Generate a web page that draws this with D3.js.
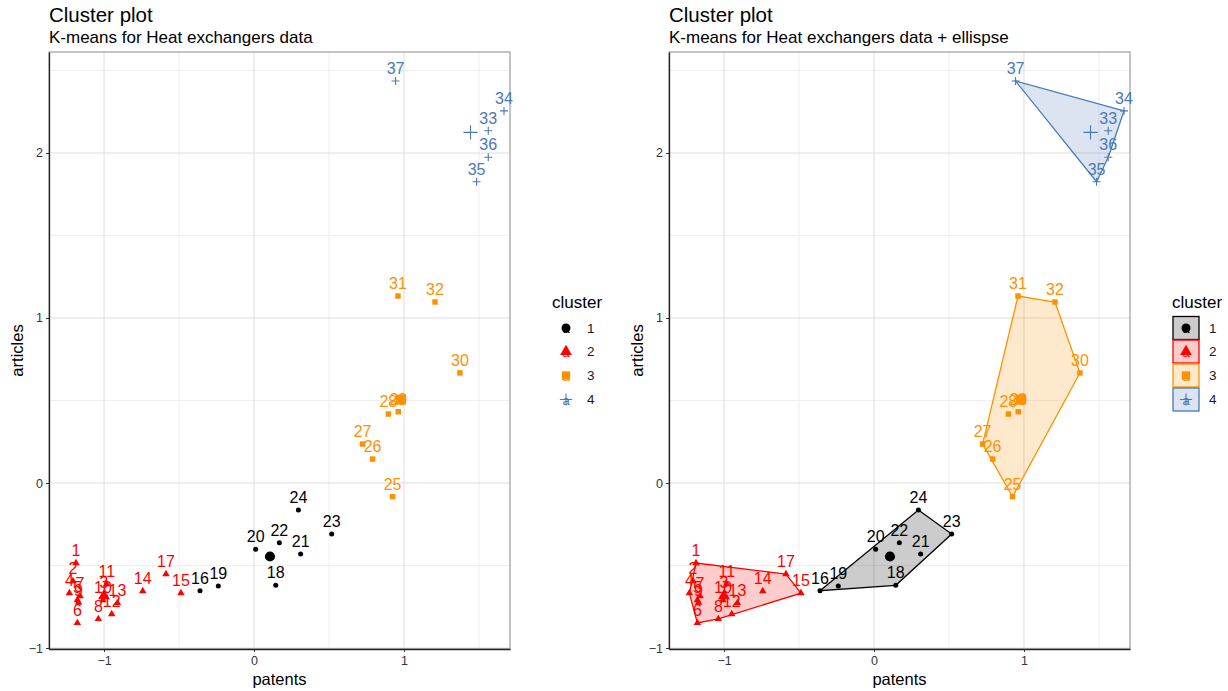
<!DOCTYPE html>
<html>
<head>
<meta charset="utf-8">
<script src="https://cdn.jsdelivr.net/npm/d3@7"></script>
<style>
  body { margin: 0; background: #fff; }
  text { font-family: "Liberation Sans", Arial, sans-serif; }
</style>
</head>
<body>
<svg id="chart" width="1228" height="691"></svg>
<script>
var ids = [1,2,3,4,5,6,7,8,9,10,11,12,13,14,15,16,17,18,19,20,21,22,23,24,25,26,27,28,29,30,31,32,33,34,35,36,37];
var patents = [-1.187,-1.207,-1.0,-1.231,-1.178,-1.178,-1.16,-1.038,-1.17,-1.007,-0.982,-0.949,-0.911,-0.742,-0.487,-0.36,-0.587,
  0.145,-0.238,0.011,0.311,0.169,0.518,0.296,0.924,0.791,0.724,0.896,0.962,1.373,0.960,1.207,1.562,1.667,1.484,1.562,0.944];
var articles = [-0.485,-0.594,-0.68,-0.667,-0.709,-0.848,-0.685,-0.824,-0.725,-0.709,-0.612,-0.794,-0.727,-0.655,-0.667,-0.653,-0.552,
  -0.620,-0.624,-0.402,-0.430,-0.362,-0.309,-0.164,-0.083,0.145,0.236,0.418,0.432,0.667,1.133,1.097,2.135,2.255,1.826,1.974,2.436];
var cluster = [2,2,2,2,2,2,2,2,2,2,2,2,2,2,2,1,2,1,1,1,1,1,1,1,3,3,3,3,3,3,3,3,4,4,4,4,4];

var clusterNames = [1, 2, 3, 4];
var clusterColors = ['#000000', '#FF0000', '#FF9100', '#4A7AB4'];
var xTicks = [-1, 0, 1];
var xMinor = [-0.5, 0.5, 1.5];
var yTicks = [-1, 0, 1, 2];
var yMinor = [-0.5, 0.5, 1.5, 2.5];

var svg = d3.select('#chart');

// "+" drawn as strokes
var plusType = {
  draw: function (ctx, size) {
    var r = Math.sqrt(size) / 2;
    ctx.moveTo(-r, 0); ctx.lineTo(r, 0);
    ctx.moveTo(0, -r); ctx.lineTo(0, r);
  }
};
var shapeTypes = [d3.symbolCircle, d3.symbolTriangle, d3.symbolSquare, plusType];
var smallSize = [20, 24, 30, 64];
var bigSize = [80, 60, 100, 200];
var keySize = [64, 60, 70, 150];

var points = ids.map(function (id, i) {
  return { id: id, x: patents[i], y: articles[i], c: cluster[i] };
});

function symbolPath(c, size) {
  return d3.symbol().type(shapeTypes[c - 1]).size(size)();
}

function drawSymbol(g, c, size, x, y) {
  var col = clusterColors[c - 1];
  var isPlus = c === 4;
  g.append('path')
    .attr('d', symbolPath(c, size))
    .attr('transform', 'translate(' + x + ',' + y + ')')
    .attr('fill', isPlus ? 'none' : col)
    .attr('stroke', isPlus ? col : 'none')
    .attr('stroke-width', isPlus ? 1.1 : 0);
}

function panel(offset, subtitle, hulls) {
  var left = 49 + offset, right = 510 + offset, top = 52, bottom = 649;
  var x = d3.scaleLinear().domain([-1.367, 1.707]).range([left, right]);
  var y = d3.scaleLinear().domain([-1.006, 2.612]).range([bottom, top]);
  var g = svg.append('g');

  g.append('text').attr('x', left).attr('y', 22)
    .attr('font-size', 20.5).attr('fill', '#000').text('Cluster plot');
  g.append('text').attr('x', left).attr('y', 43)
    .attr('font-size', 17).attr('fill', '#000').text(subtitle);

  // grid
  g.selectAll('.vminor').data(xMinor).enter().append('line')
    .attr('x1', x).attr('x2', x).attr('y1', top).attr('y2', bottom)
    .attr('stroke', '#ebebeb').attr('stroke-width', 0.8);
  g.selectAll('.hminor').data(yMinor).enter().append('line')
    .attr('y1', y).attr('y2', y).attr('x1', left).attr('x2', right)
    .attr('stroke', '#ebebeb').attr('stroke-width', 0.8);
  g.selectAll('.vmajor').data(xTicks).enter().append('line')
    .attr('x1', x).attr('x2', x).attr('y1', top).attr('y2', bottom)
    .attr('stroke', '#dedede').attr('stroke-width', 1);
  g.selectAll('.hmajor').data(yTicks).enter().append('line')
    .attr('y1', y).attr('y2', y).attr('x1', left).attr('x2', right)
    .attr('stroke', '#dedede').attr('stroke-width', 1);

  g.append('rect').attr('x', left).attr('y', top)
    .attr('width', right - left).attr('height', bottom - top)
    .attr('fill', 'none').attr('stroke', '#8a8a8a').attr('stroke-width', 1);

  // axes
  var xAxis = g.append('g').attr('transform', 'translate(0,' + bottom + ')')
    .call(d3.axisBottom(x).tickValues(xTicks).tickSize(3).tickSizeOuter(0).tickPadding(4).tickFormat(d3.format('d')));
  var yAxis = g.append('g').attr('transform', 'translate(' + left + ',0)')
    .call(d3.axisLeft(y).tickValues(yTicks).tickSize(3).tickSizeOuter(0).tickPadding(3).tickFormat(d3.format('d')));
  [xAxis, yAxis].forEach(function (a) {
    a.select('.domain').attr('stroke', '#222').attr('stroke-width', 1.3);
    a.selectAll('.tick line').attr('stroke', '#333');
    a.selectAll('.tick text').attr('font-size', 12.5).attr('fill', '#333')
      .style('font-family', '"Liberation Sans", Arial, sans-serif');
  });

  g.append('text').attr('x', (left + right) / 2).attr('y', 685)
    .attr('text-anchor', 'middle').attr('font-size', 16.5).text('patents');
  g.append('text').attr('transform', 'translate(' + (offset + 23) + ',' + ((top + bottom) / 2) + ') rotate(-90)')
    .attr('text-anchor', 'middle').attr('font-size', 16.5).text('articles');

  var byCluster = d3.group(points, function (d) { return d.c; });

  if (hulls) {
    clusterNames.forEach(function (c) {
      var pts = byCluster.get(c).map(function (d) { return [x(d.x), y(d.y)]; });
      var hull = d3.polygonHull(pts);
      g.append('path')
        .attr('d', 'M' + hull.join('L') + 'Z')
        .attr('fill', clusterColors[c - 1]).attr('fill-opacity', 0.2)
        .attr('stroke', clusterColors[c - 1]).attr('stroke-width', 1.3);
    });
  }

  points.forEach(function (d) {
    drawSymbol(g, d.c, smallSize[d.c - 1], x(d.x), y(d.y));
  });
  g.selectAll('.lbl').data(points).enter().append('text')
    .attr('x', function (d) { return x(d.x); })
    .attr('y', function (d) { return y(d.y) - 7; })
    .attr('text-anchor', 'middle').attr('font-size', 16)
    .attr('fill', function (d) { return clusterColors[d.c - 1]; })
    .text(function (d) { return d.id; });

  // cluster centres
  clusterNames.forEach(function (c) {
    var pts = byCluster.get(c);
    var cx = d3.mean(pts, function (d) { return d.x; });
    var cy = d3.mean(pts, function (d) { return d.y; });
    drawSymbol(g, c, bigSize[c - 1], x(cx), y(cy));
  });

  // legend
  var lg = g.append('g');
  var lx = offset + 552;
  lg.append('text').attr('x', lx).attr('y', 308).attr('font-size', 17).text('cluster');
  var keyY = [328, 351.5, 375.5, 399.5];
  clusterNames.forEach(function (c, i) {
    var col = clusterColors[i];
    var kx = lx + 14, ky = keyY[i];
    if (hulls) {
      lg.append('rect').attr('x', kx - 13).attr('y', ky - 11.5).attr('width', 26).attr('height', 23)
        .attr('fill', col).attr('fill-opacity', 0.2)
        .attr('stroke', col).attr('stroke-width', 1.3);
    }
    lg.append('text').attr('x', kx).attr('y', ky + 5).attr('text-anchor', 'middle')
      .attr('font-size', 13).attr('fill', col).text('a');
    drawSymbol(lg, c, keySize[i], kx, ky);
    lg.append('text').attr('x', kx + (hulls ? 23 : 21)).attr('y', ky + 4.5)
      .attr('font-size', 13.5).attr('fill', '#1a1a1a').text(c);
  });
}

panel(0, 'K-means for Heat exchangers data', false);
panel(620, 'K-means for Heat exchangers data + ellispse', true);
</script>
</body>
</html>
